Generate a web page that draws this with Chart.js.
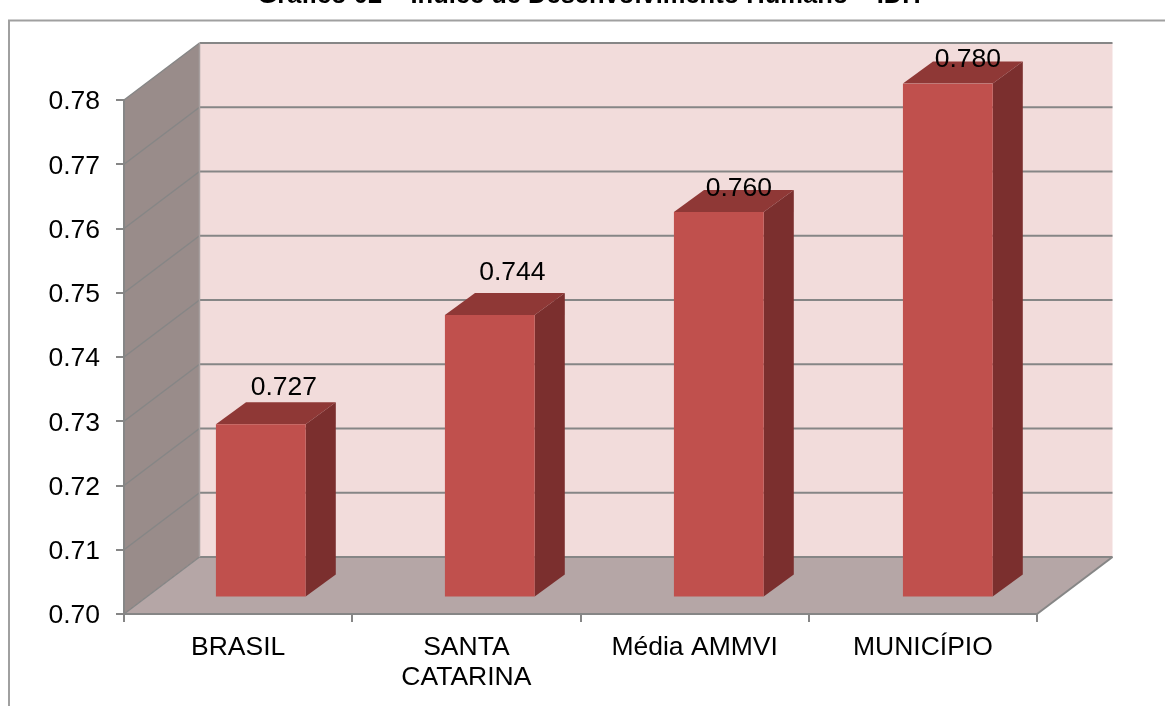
<!DOCTYPE html>
<html><head><meta charset="utf-8">
<style>html,body{margin:0;padding:0;background:#fff;overflow:hidden}#w{position:absolute;left:0;top:0;width:1165px;height:706px}</style>
<script src="https://cdn.jsdelivr.net/npm/chart.js@4/dist/chart.umd.min.js"></script>
</head><body><div id="w"><canvas id="c" width="1165" height="706"></canvas></div>
<script>
const titleText = 'Gráfico 02 – Índice de Desenvolvimento Humano – IDH';
const categories = ['BRASIL', ['SANTA', 'CATARINA'], 'Média AMMVI', 'MUNICÍPIO'];
const seriesValues = [0.727, 0.744, 0.760, 0.780];
const valueLabels = ['0.727', '0.744', '0.760', '0.780'];
const FONT = '"Liberation Sans", Arial, sans-serif';
const FS = 26.5;
const WALL = {dx: 75.5, dy: -57};
const BAR = {shiftX: 22.3, shiftY: -16.4, scaleX: 1.0033, dx: 30, dy: -22};
const LABEL_SHIFT = [[23, -36.6], [22.5, -42.6], [20, -23.6], [20, -23.6]];
const GRID = '#868686';

const threeD = {
  id: 'threeD',
  beforeDraw(chart) {
    const c = chart.ctx, a = chart.chartArea, y = chart.scales.y;
    c.save();
    c.strokeStyle = '#a0a0a0'; c.lineWidth = 2;
    c.beginPath(); c.moveTo(9, 706); c.lineTo(9, 20.5); c.lineTo(1165, 20.5); c.stroke();
    c.fillStyle = '#000'; c.font = 'bold 25.5px ' + FONT; c.textAlign = 'center'; c.textBaseline = 'alphabetic';
    c.fillText(titleText, 589, 3);
    const L = a.left, R = a.right, T = a.top, B = a.bottom, dx = WALL.dx, dy = WALL.dy;
    c.fillStyle = '#F2DCDB'; c.fillRect(L + dx, T + dy, R - L, B - T);
    c.fillStyle = '#998C8A';
    c.beginPath(); c.moveTo(L, T); c.lineTo(L + dx, T + dy); c.lineTo(L + dx, B + dy); c.lineTo(L, B); c.closePath(); c.fill();
    c.fillStyle = '#B5A6A6';
    c.beginPath(); c.moveTo(L, B); c.lineTo(R, B); c.lineTo(R + dx, B + dy); c.lineTo(L + dx, B + dy); c.closePath(); c.fill();
    c.strokeStyle = GRID; c.lineWidth = 2;
    y.ticks.forEach(t => {
      const py = y.getPixelForValue(t.value);
      c.lineWidth = 2;
      c.beginPath(); c.moveTo(L + dx, py + dy); c.lineTo(R + dx, py + dy); c.stroke();
      c.lineWidth = 1.5;
      c.beginPath(); c.moveTo(L, py); c.lineTo(L + dx, py + dy); c.stroke();
    });
    c.lineWidth = 2;
    c.beginPath(); c.moveTo(R, B); c.lineTo(R + dx, B + dy); c.stroke();
    c.strokeStyle = '#a8a0a0'; c.lineWidth = 1.5;
    c.beginPath(); c.moveTo(L + dx, T + dy); c.lineTo(L + dx, B + dy); c.stroke();
    c.restore();
  },
  beforeDatasetsDraw(chart) {
    const c = chart.ctx, L = chart.chartArea.left;
    c.save();
    c.translate(L + BAR.shiftX, BAR.shiftY);
    c.scale(BAR.scaleX, 1);
    c.translate(-L, 0);
    chart.getDatasetMeta(0).data.forEach(b => {
      const p = b.getProps(['x', 'y', 'base', 'width'], true);
      const l = p.x - p.width / 2, r = p.x + p.width / 2;
      c.fillStyle = '#8F3836';
      c.beginPath(); c.moveTo(l, p.y); c.lineTo(r, p.y); c.lineTo(r + BAR.dx, p.y + BAR.dy); c.lineTo(l + BAR.dx, p.y + BAR.dy); c.closePath(); c.fill();
      c.fillStyle = '#7B2F2E';
      c.beginPath(); c.moveTo(r, p.y); c.lineTo(r + BAR.dx, p.y + BAR.dy); c.lineTo(r + BAR.dx, p.base + BAR.dy); c.lineTo(r, p.base); c.closePath(); c.fill();
    });
  },
  afterDatasetsDraw(chart) {
    const c = chart.ctx, L = chart.chartArea.left;
    c.restore();
    c.save();
    c.fillStyle = '#000'; c.font = FS + 'px ' + FONT; c.textAlign = 'center'; c.textBaseline = 'middle';
    chart.getDatasetMeta(0).data.forEach((b, i) => {
      const p = b.getProps(['x', 'y'], true);
      const px = L + (p.x - L) * BAR.scaleX + BAR.shiftX;
      c.fillText(valueLabels[i], px + LABEL_SHIFT[i][0], p.y + BAR.shiftY + LABEL_SHIFT[i][1]);
    });
    c.restore();
  }
};

new Chart(document.getElementById('c'), {
  type: 'bar',
  data: {labels: categories, datasets: [{data: seriesValues, base: 0.70, backgroundColor: '#C0504D', borderWidth: 0, barPercentage: 1, categoryPercentage: 0.392}]},
  plugins: [threeD],
  options: {
    responsive: false, animation: false,
    layout: {padding: {left: 0, right: 128, top: 100, bottom: 0}},
    plugins: {legend: {display: false}, title: {display: false}, tooltip: {enabled: false}},
    scales: {
      x: {
        offset: true,
        afterFit(s) { s.height = 92; },
        grid: {offset: true, drawOnChartArea: false, drawTicks: true, tickLength: 8, color: GRID, lineWidth: 2},
        border: {display: true, color: GRID, width: 2},
        ticks: {color: '#000', font: {family: FONT, size: FS, lineHeight: 1.15}, padding: 10, maxRotation: 0, autoSkip: false}
      },
      y: {
        min: 0.70, max: 0.78,
        afterFit(s) { s.width = 124; },
        grid: {drawOnChartArea: false, drawTicks: true, tickLength: 8, color: GRID, lineWidth: 2},
        border: {display: true, color: GRID, width: 2},
        ticks: {stepSize: 0.01, color: '#000', font: {family: FONT, size: FS}, padding: 16, labelOffset: 2, callback: v => v.toFixed(2)}
      }
    }
  }
});
</script></body></html>
